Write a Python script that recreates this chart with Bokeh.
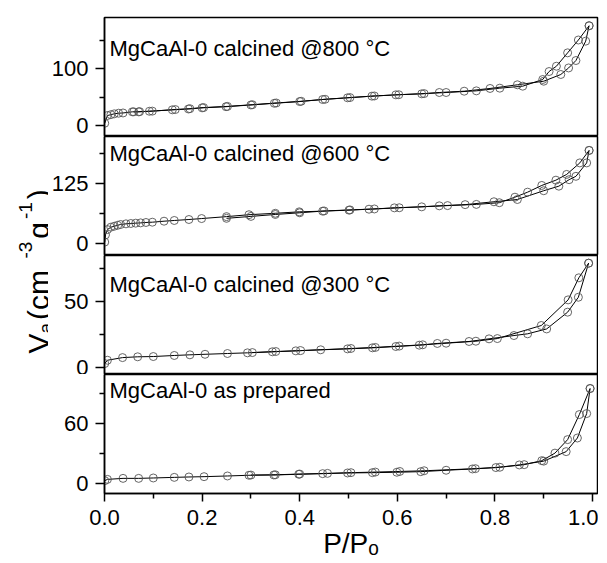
import math
from bokeh.plotting import figure
from bokeh.layouts import row, column
from bokeh.models import Range1d, FixedTicker, Label, PrintfTickFormatter
from bokeh.embed import file_html
from bokeh.resources import INLINE

FONT = "Liberation Sans"

# ---------------- data ----------------
# MgCaAl-0 calcined @800 °C
p800_ads_p = [0.0005, 0.006, 0.013, 0.02, 0.029, 0.038, 0.057, 0.07, 0.092, 0.139, 0.172, 0.2, 0.249, 0.3,
              0.348, 0.4, 0.447, 0.498, 0.548, 0.597, 0.65, 0.686, 0.737, 0.79, 0.846, 0.9, 0.935, 0.951,
              0.966, 0.986, 0.993]
p800_ads_v = [4, 17.5, 19, 20.5, 21.6, 22, 24, 24, 25, 27.5, 29, 31, 33, 36, 39, 42, 45.6, 48.6, 51.5, 53.8,
              55.6, 57.9, 60.2, 65, 71.4, 77.7, 89.5, 101, 114, 148, 175]
p800_des_p = [0.993, 0.971, 0.949, 0.926, 0.911, 0.898, 0.857, 0.81, 0.762, 0.70, 0.655, 0.603, 0.553, 0.503,
              0.452, 0.403, 0.352, 0.303, 0.252, 0.203, 0.175, 0.145, 0.098, 0.072, 0.06]
p800_des_v = [175, 150, 127.5, 104, 94.7, 80.7, 69, 65.5, 60.8, 57.9, 56, 54, 51.8, 49, 46, 42.5, 39.5, 36.5,
              33.5, 31.5, 29.5, 28, 25.2, 24.3, 24]

# MgCaAl-0 calcined @600 °C
p600_ads_p = [0.0005, 0.002, 0.006, 0.013, 0.02, 0.027, 0.033, 0.044, 0.054, 0.064, 0.074, 0.085, 0.098, 0.122,
              0.143, 0.173, 0.199, 0.25, 0.296, 0.35, 0.399, 0.447, 0.501, 0.542, 0.594, 0.65, 0.686, 0.739,
              0.798, 0.846, 0.9, 0.931, 0.952, 0.966, 0.988, 0.993]
p600_ads_v = [3, 18, 29, 34, 36, 38, 39.6, 41, 41.7, 42.4, 43, 43.8, 44.4, 46.5, 48, 50, 52, 56, 60, 63, 66,
              67.4, 69.5, 71.5, 74.3, 76.4, 78.5, 81, 87, 91.7, 110, 119.5, 133, 140, 168, 194]
p600_des_p = [0.993, 0.974, 0.947, 0.925, 0.896, 0.867, 0.841, 0.809, 0.762, 0.703, 0.604, 0.553, 0.503, 0.45,
              0.4, 0.35, 0.3, 0.25]
p600_des_v = [194, 168, 144, 132, 121, 107, 96.5, 85, 81.5, 79, 74.5, 72, 70, 67.8, 64, 60.5, 56.5, 52.5]

# MgCaAl-0 calcined @300 °C
p300_ads_p = [0.0005, 0.006, 0.037, 0.068, 0.1, 0.143, 0.175, 0.206, 0.252, 0.293, 0.344, 0.392, 0.443, 0.498,
              0.549, 0.597, 0.645, 0.682, 0.747, 0.788, 0.839, 0.867, 0.906, 0.949, 0.971, 0.992]
p300_ads_v = [2.8, 5.3, 7.3, 7.9, 8.1, 8.9, 9.4, 9.8, 10.4, 10.9, 11.7, 12.4, 13.2, 13.9, 14.7, 15.7, 16.7,
              18, 19.5, 21.5, 24, 25.3, 29, 41.7, 53, 78.8]
p300_des_p = [0.992, 0.972, 0.95, 0.895, 0.805, 0.761, 0.70, 0.652, 0.604, 0.555, 0.505, 0.402, 0.351, 0.303]
p300_des_v = [78.8, 67.7, 51, 31.6, 21.7, 19.7, 18.2, 17, 16, 15, 14.2, 12.6, 11.9, 11.1]

# MgCaAl-0 as prepared
p0_ads_p = [0.0005, 0.006, 0.038, 0.07, 0.1, 0.143, 0.173, 0.204, 0.252, 0.296, 0.347, 0.398, 0.447, 0.498,
            0.549, 0.599, 0.648, 0.70, 0.754, 0.802, 0.85, 0.9, 0.946, 0.969, 0.988, 0.995]
p0_ads_v = [3, 4.3, 5.3, 5.3, 5.7, 6.3, 6.7, 7, 7.7, 8.4, 8.7, 9.4, 10, 10.7, 11, 11.4, 12, 13.4, 14.7, 16.1,
            18.7, 22.5, 32, 45.6, 70, 95]
p0_des_p = [0.995, 0.973, 0.949, 0.923, 0.896, 0.86, 0.81, 0.76, 0.655, 0.605, 0.555, 0.505, 0.457, 0.40,
            0.35, 0.30]
p0_des_v = [95, 69, 44, 30.5, 23, 19, 16.4, 15, 12.9, 12.2, 11.6, 11, 10.3, 9.6, 8.9, 8.6]

titles = ["MgCaAl-0 calcined @800 °C", "MgCaAl-0 calcined @600 °C",
          "MgCaAl-0 calcined @300 °C", "MgCaAl-0 as prepared"]
y_ranges = [(-19.3, 189.5), (-25, 223), (-5.5, 84.6), (-9.8, 109)]
y_major = [[0, 100], [0, 125], [0, 50], [0, 60]]
y_minor = [[50, 150], [62.5, 187.5], [25, 75], [30, 90]]
title_drop = [31, 17, 29, 16]   # caption offset below panel top (px)

x_major = [0.0, 0.2, 0.4, 0.6, 0.8, 1.0]
x_minor = [0.1, 0.3, 0.5, 0.7, 0.9]
x_title = "P/P\u2092"

data = [
    (p800_ads_p, p800_ads_v, p800_des_p, p800_des_v),
    (p600_ads_p, p600_ads_v, p600_des_p, p600_des_v),
    (p300_ads_p, p300_ads_v, p300_des_p, p300_des_v),
    (p0_ads_p, p0_ads_v, p0_des_p, p0_des_v),
]

X_END = 1.0102
FW, FH = 493, 119
LEFT = 54
RIGHT = 3
TOP = 17
BOTTOM = 70
TOTAL_H = TOP + 4 * FH + BOTTOM   # 563
LW = 48


def make_panel(i):
    first, last = i == 0, i == 3
    ap, av, dp, dv = data[i]
    y0, y1 = y_ranges[i]
    p = figure(output_backend="svg", toolbar_location=None, title=None,
               frame_width=FW, frame_height=FH,
               x_range=Range1d(0, X_END), y_range=Range1d(y0, y1),
               min_border_left=LEFT, min_border_right=RIGHT,
               min_border_top=TOP if first else 0,
               min_border_bottom=BOTTOM if last else 0)
    p.background_fill_color = "white"
    p.border_fill_color = "white"
    p.outline_line_color = "black"
    p.outline_line_width = 1.5
    p.grid.visible = False

    p.line(ap, av, line_color="black", line_width=1)
    p.line(dp, dv, line_color="black", line_width=1)
    p.scatter(ap, av, marker="circle", size=8, fill_alpha=0, line_color="#555555", line_width=0.9)
    p.scatter(dp, dv, marker="circle", size=8, fill_alpha=0, line_color="#555555", line_width=0.9)

    ya = p.yaxis[0]
    ya.ticker = FixedTicker(ticks=y_major[i], minor_ticks=y_minor[i])
    ya.major_tick_out = 9
    ya.major_tick_in = 0
    ya.minor_tick_out = 5
    ya.minor_tick_in = 0
    ya.axis_line_width = 1.5
    ya.major_tick_line_width = 1.5
    ya.minor_tick_line_width = 1.5
    ya.major_label_text_font = FONT
    ya.major_label_text_font_size = "22px"
    ya.major_label_text_color = "black"
    ya.major_label_standoff = 7

    xa = p.xaxis[0]
    if last:
        xa.ticker = FixedTicker(ticks=x_major, minor_ticks=x_minor)
        xa.formatter = PrintfTickFormatter(format="%.1f")
        xa.major_tick_out = 8
        xa.major_tick_in = 0
        xa.minor_tick_out = 5
        xa.minor_tick_in = 0
        xa.axis_line_width = 1.5
        xa.major_tick_line_width = 1.5
        xa.minor_tick_line_width = 1.5
        xa.major_label_text_font = FONT
        xa.major_label_text_font_size = "22px"
        xa.major_label_text_color = "black"
        xa.major_label_standoff = 8
        xa.axis_label = x_title
        xa.axis_label_text_font = FONT
        xa.axis_label_text_font_size = "28px"
        xa.axis_label_text_font_style = "normal"
        xa.axis_label_text_color = "black"
        xa.axis_label_standoff = 0
    else:
        xa.visible = False

    tx = 5 * X_END / FW
    ty = y1 - title_drop[i] * (y1 - y0) / FH
    p.add_layout(Label(x=tx, y=ty, text=titles[i], text_font=FONT, text_font_size="22px",
                       text_color="black", text_baseline="alphabetic", text_align="left"))
    return p


panels = [make_panel(i) for i in range(4)]

# rotated y-axis title
lab = figure(output_backend="svg", toolbar_location=None, title=None,
             width=LW, height=TOTAL_H, min_border=0,
             x_axis_location=None, y_axis_location=None,
             x_range=Range1d(0, LW), y_range=Range1d(0, TOTAL_H))
lab.grid.visible = False
lab.outline_line_color = None
lab.background_fill_color = "white"
lab.border_fill_color = "white"

F_BIG, F_SMALL = 30, 19
em = {"V": .667, "a": .556, " ": .278, "(": .333, "c": .5, "m": .833, "-": .333, "3": .556,
      "g": .556, "1": .556, ")": .333}
# (text, font px, baseline x on page, extra gap after piece)
pieces = [("V", F_BIG, 38, 0), ("a", F_SMALL, 45, 3), (" (cm", F_BIG, 38, 3), ("-3", F_SMALL, 25, 3),
          ("g", F_BIG, 38, 3), ("-1", F_SMALL, 25, 3), (")", F_BIG, 38, 0)]
start_page_y = 353
s = 0.0
for txt, fs, bx, gap in pieces:
    w = sum(em[c] for c in txt) * fs
    page_y = start_page_y - s
    lab.add_layout(Label(x=bx, y=TOTAL_H - page_y, text=txt, angle=math.pi / 2,
                         text_font=FONT, text_font_size=f"{fs}px", text_color="black",
                         text_baseline="alphabetic", text_align="left"))
    s += w + gap

layout = row(lab, column(*panels, spacing=0), spacing=0)
open("out.html", "w").write(file_html(layout, INLINE))
